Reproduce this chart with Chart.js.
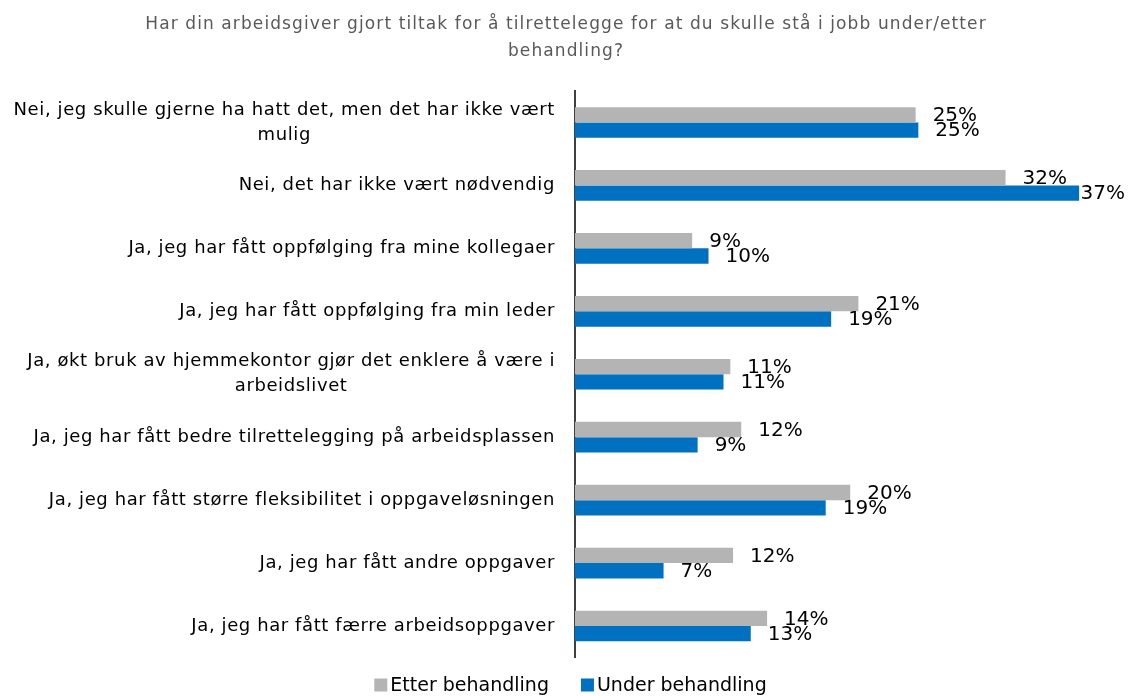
<!DOCTYPE html>
<html>
<head>
<meta charset="utf-8">
<script src="https://cdn.jsdelivr.net/npm/chart.js@4.4.1/dist/chart.umd.min.js"></script>
<style>
  html, body { margin: 0; padding: 0; background: #fff; }
  #wrap { width: 1129px; height: 696px; }
</style>
</head>
<body>
<div id="wrap"><canvas id="chart"></canvas></div>
<script>
const FONT = '"DejaVu Sans", Lato, sans-serif';

// categories (wrapped lines as arrays)
const categories = [
    ['Nei, jeg skulle gjerne ha hatt det, men det har ikke vært', 'mulig'],
    ['Nei, det har ikke vært nødvendig'],
    ['Ja, jeg har fått oppfølging fra mine kollegaer'],
    ['Ja, jeg har fått oppfølging fra min leder'],
    ['Ja, økt bruk av hjemmekontor gjør det enklere å være i', 'arbeidslivet'],
    ['Ja, jeg har fått bedre tilrettelegging på arbeidsplassen'],
    ['Ja, jeg har fått større fleksibilitet i oppgaveløsningen'],
    ['Ja, jeg har fått andre oppgaver'],
    ['Ja, jeg har fått færre arbeidsoppgaver']
];

const etterValues = [25.0, 31.6, 8.6, 20.8, 11.4, 12.2, 20.2, 11.6, 14.1];
const underValues = [25.2, 37.0, 9.8, 18.8, 10.9, 9.0, 18.4, 6.5, 12.9];

const etterLabels = ['25%', '32%', '9%', '21%', '11%', '12%', '20%', '12%', '14%'];
const underLabels = ['25%', '37%', '10%', '19%', '11%', '9%', '19%', '7%', '13%'];

const titleLines = ['Har din arbeidsgiver gjort tiltak for å tilrettelegge for at du skulle stå i jobb under/etter', 'behandling?'];

// title, category labels and legend drawn by hand (spacing like the original)
const textLayer = {
    id: 'textLayer',
    afterDraw(chart) {
        const ctx = chart.ctx;
        const yScale = chart.scales.y;
        ctx.save();

        // title
        ctx.font = '17px ' + FONT;
        ctx.letterSpacing = '1.1px';
        ctx.fillStyle = '#595959';
        ctx.textBaseline = 'middle';
        ctx.textAlign = 'center';
        titleLines.forEach((l, i) => ctx.fillText(l, 566, 25 + i * 27));

        // category labels: right aligned block, lines centred inside
        const right = yScale.right - 20;
        const lh = 25;
        ctx.font = '18px ' + FONT;
        ctx.letterSpacing = '0.6px';
        ctx.fillStyle = '#000';
        categories.forEach((lines, i) => {
            const cy = yScale.getPixelForValue(i);
            const w = Math.max(...lines.map(l => ctx.measureText(l).width));
            const cx = right - w / 2;
            const top = cy - (lines.length - 1) * lh / 2;
            lines.forEach((l, j) => ctx.fillText(l, cx, top + j * lh));
        });

        // legend
        ctx.font = '19px ' + FONT;
        ctx.letterSpacing = '0px';
        ctx.textAlign = 'left';
        const items = chart.data.datasets.map(ds => ({
            text: ds.label, color: ds.backgroundColor, w: ctx.measureText(ds.label).width
        }));
        const gap = 32, box = 13, tgap = 3;
        const total = items.reduce((s, it) => s + box + tgap + it.w, 0) + gap * (items.length - 1);
        let x = chart.width / 2 + 6 - total / 2;
        const ly = 685;
        items.forEach(it => {
            ctx.fillStyle = it.color;
            ctx.fillRect(x, ly - box / 2, box, box);
            ctx.fillStyle = '#000';
            ctx.fillText(it.text, x + box + tgap, ly + 1);
            x += box + tgap + it.w + gap;
        });
        ctx.restore();
    }
};

// value labels next to bar ends
const valueLabels = {
    id: 'valueLabels',
    afterDatasetsDraw(chart) {
        const ctx = chart.ctx;
        const all = [etterLabels, underLabels];
        ctx.save();
        ctx.font = '20px ' + FONT;
        ctx.fillStyle = '#000';
        ctx.textBaseline = 'middle';
        ctx.textAlign = 'left';
        all.forEach((labels, di) => {
            const meta = chart.getDatasetMeta(di);
            meta.data.forEach((bar, i) => {
                const txt = labels[i];
                const w = ctx.measureText(txt).width;
                let x = bar.x + 17;
                if (x + w > chart.width - 4) x = chart.width - 4 - w;
                ctx.fillText(txt, x, bar.y + 1);
            });
        });
        ctx.restore();
    }
};

new Chart(document.getElementById('chart'), {
    type: 'bar',
    data: {
        labels: categories.map(c => c.join(' ')),
        datasets: [
            {
                label: 'Etter behandling',
                data: etterValues,
                backgroundColor: '#B4B4B5',
                barPercentage: 1,
                categoryPercentage: 0.487
            },
            {
                label: 'Under behandling',
                data: underValues,
                backgroundColor: '#0070C0',
                barPercentage: 1,
                categoryPercentage: 0.487
            }
        ]
    },
    options: {
        indexAxis: 'y',
        responsive: true,
        maintainAspectRatio: false,
        animation: false,
        layout: { padding: { left: 0, right: 9, top: 91, bottom: 38.5 } },
        scales: {
            x: {
                min: 0, max: 40,
                grid: { display: false },
                border: { display: false },
                ticks: { display: false },
                afterFit: s => { s.height = 0; }
            },
            y: {
                grid: { display: false },
                border: { display: true, color: '#404040', width: 2 },
                ticks: { display: false },
                afterFit: s => { s.width = 575; }
            }
        },
        plugins: {
            title: { display: false },
            legend: { display: false },
            tooltip: { enabled: false }
        }
    },
    plugins: [textLayer, valueLabels]
});
</script>
</body>
</html>
